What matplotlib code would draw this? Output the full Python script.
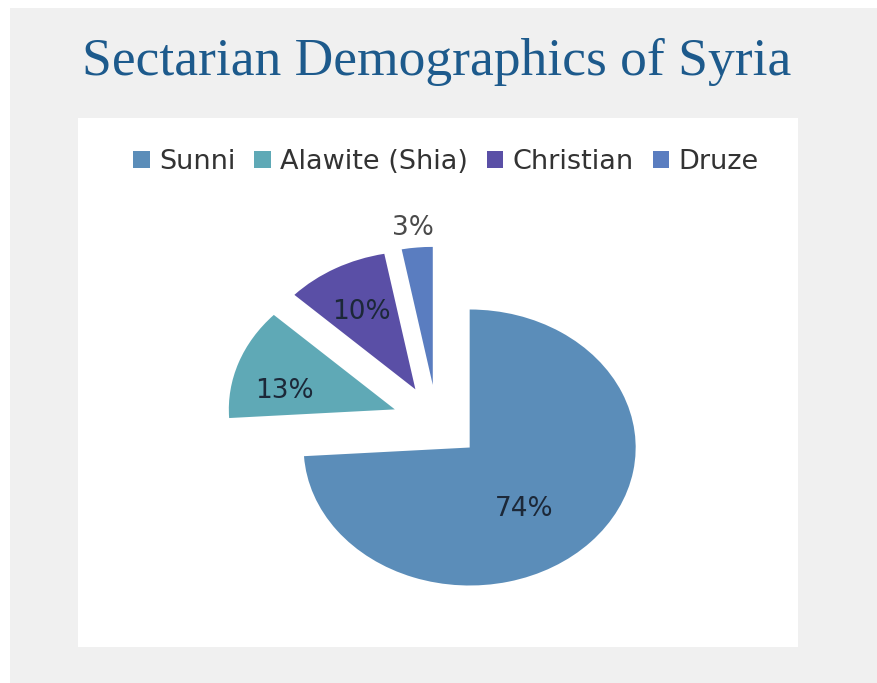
import matplotlib
matplotlib.use("Agg")
import matplotlib.pyplot as plt
from matplotlib.patches import Rectangle, Patch
import numpy as np

categories = ["Sunni", "Alawite (Shia)", "Christian", "Druze"]
values = [74, 13, 10, 3]
colors = ["#5b8db9", "#5fa9b6", "#5a4fa6", "#5a7dc0"]
title = "Sectarian Demographics of Syria"

W, H = 878, 683
fig = plt.figure(figsize=(W / 100, H / 100), dpi=100)
fig.patch.set_facecolor("white")

def px_rect(x0, y0, x1, y1, color):
    # image coords (y down) -> figure fraction
    fig.patches.append(Rectangle((x0 / W, 1 - y1 / H), (x1 - x0) / W, (y1 - y0) / H,
                                 transform=fig.transFigure, facecolor=color,
                                 edgecolor="none", zorder=-10))

px_rect(10, 8, 878, 683, "#f0f0f0")
px_rect(78, 118, 798, 647, "#ffffff")

# pie axes: 1 data unit = 166 px horizontally, 138 px vertically
sx, sy = 166.0, 138.0
cx, cy = 437.0, 422.0
ax = fig.add_axes([0, 0, 1, 1], zorder=1)
ax.set_facecolor("none")
wedges, _ = ax.pie(values, colors=colors, startangle=90, counterclock=False,
                   explode=[0.27, 0.27, 0.27, 0.27], radius=1.0,
                   wedgeprops=dict(linewidth=0))
ax.set_aspect("auto")
ax.set_xlim(-cx / sx, (W - cx) / sx)
ax.set_ylim(-(H - cy) / sy, cy / sy)
ax.axis("off")

# label placement relative to each wedge (radius fraction, angle offset in deg)
label_r = [0.55, 0.675, 0.646, 1.14]
label_da = [-10.5, 8.7, 1.4, 0.5]
for w, v, r, da in zip(wedges, values, label_r, label_da):
    mid = np.deg2rad((w.theta1 + w.theta2) / 2 + da)
    x = w.center[0] + r * np.cos(mid)
    y = w.center[1] + r * np.sin(mid)
    ax.text(x, y, f"{v}%", ha="center", va="center", fontsize=19,
            color="#1c2838" if r < 1 else "#4a4a4a", family="DejaVu Sans")

fig.text(437 / W, 1 - 62 / H, title, ha="center", va="center", fontsize=38.5,
         color="#1d5a8c", family=["Liberation Serif", "DejaVu Serif"])

handles = [Patch(facecolor=c, edgecolor="none") for c in colors]
fig.legend(handles, categories, loc="center", bbox_to_anchor=(446 / W, 1 - 162 / H),
           ncol=4, frameon=False, handlelength=0.6, handleheight=0.6,
           handletextpad=0.35, columnspacing=0.7,
           prop=dict(family="DejaVu Sans", size=19.5),
           labelcolor="#333333")

fig.savefig("out.png", dpi=100, facecolor=fig.get_facecolor())
